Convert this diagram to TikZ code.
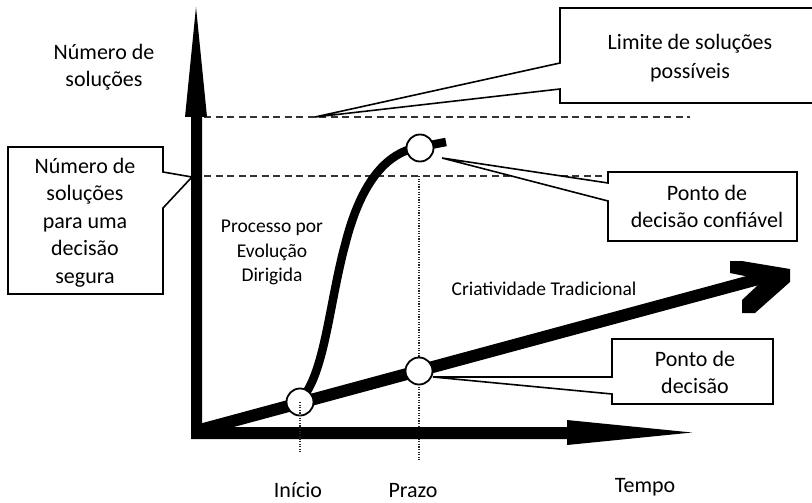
\documentclass[tikz,border=0pt]{standalone}
\usepackage{fontspec}
\setmainfont{Carlito}
\begin{document}
\begin{tikzpicture}[x=1pt,y=-1pt,
  callout/.style={draw=black,line width=1.6pt,fill=white,line join=miter},
  guide/.style={draw=black!80,line width=1.8pt,dash pattern=on 7pt off 4.5pt},
  tickline/.style={draw=black!85,line width=1.3pt,dash pattern=on 1.2pt off 1.4pt},
  lbl/.style={font=\fontsize{22}{26}\selectfont,inner sep=0pt,anchor=base},
  smalllbl/.style={font=\fontsize{19.5}{24}\selectfont,inner sep=0pt,anchor=base},
  marker/.style={circle,draw=black,line width=1.8pt,fill=white,minimum size=27pt,inner sep=0pt},
  solid black/.style={fill=black,draw=none}]
\useasboundingbox (0,0) rectangle (812,503);
\clip (0,0) rectangle (812,503);

% key points
\coordinate (origin) at (196,431);
\coordinate (tradend) at (762,278);
\coordinate (limL) at (204,117);
\coordinate (limR) at (690,117);
\coordinate (safeL) at (204,176);
\coordinate (safeR) at (607,176);

% horizontal reference levels
\draw[guide] (limL) -- (limR);
\draw[guide] (safeL) -- (safeR);

% deadline marker line
\coordinate (prazoTop) at (419,176);
\coordinate (prazoBot) at (419,460);
\draw[tickline] (prazoTop) -- (prazoBot);

% callouts
\draw[callout] (560,63) -- (560,8) -- (818,8) -- (818,103) -- (560,103) -- (560,89) -- (315,117) -- cycle;
\draw[callout] (163,172) -- (163,147) -- (8,147) -- (8,294) -- (163,294) -- (163,208) -- (192,177) -- cycle;
\draw[callout] (608,183) -- (608,172) -- (797,172) -- (797,241) -- (608,241) -- (608,201) -- (442,158) -- cycle;
\draw[callout] (612,377) -- (612,339) -- (773,339) -- (773,404) -- (612,404) -- (612,394) -- (433,377) -- cycle;

% axes
\fill[solid black] (191,439) -- (191,117) -- (185,117) -- (196,7) -- (207,117) -- (202,117)
  -- (202,427) -- (567,427) -- (567,420) -- (692,432.5) -- (567,445) -- (567,439) -- cycle;

% traditional creativity arrow
\draw[line width=12pt,line cap=butt] (origin) -- (tradend);
\fill[solid black] (730,261) -- (742,261) -- (790,269) -- (790,282) -- (755,313) -- (742,313)
  -- (742,300) -- (758,285) -- (750,277) -- (730,273) -- cycle;

% directed evolution curve
\coordinate (evoStart) at (303,397);
\coordinate (evoMid) at (345,245);
\coordinate (evoTop) at (420,147);
\coordinate (evoEnd) at (446,142);
\draw[line width=8.5pt,line cap=butt] (evoStart) .. controls (325,370) and (330,300) .. (evoMid)
  .. controls (360,185) and (385,152) .. (evoTop) -- (evoEnd);

% decision markers
\node[marker] (inicio) at (300,402) {};
\node[marker] (prazo) at (419,371) {};
\node[marker] (confiavel) at (420,148) {};
\coordinate (inicioBot) at (300,452);
\draw[tickline] (inicio.center) -- (inicioBot);

% labels
\node[lbl] (yl1) at (104,60) {Número de};
\node[lbl] (yl2) at (104,87) {soluções};

\node[lbl] (lim1) at (690,50) {Limite de soluções};
\node[lbl] (lim2) at (690,78) {possíveis};

\node[lbl] (seg1) at (85,173) {Número de};
\node[lbl] (seg2) at (85,200.5) {soluções};
\node[lbl] (seg3) at (85,228) {para uma};
\node[lbl] (seg4) at (85,255.5) {decisão};
\node[lbl] (seg5) at (85,283) {segura};

\node[lbl] (conf1) at (707,200) {Ponto de};
\node[lbl] (conf2) at (707,227) {decisão confiável};

\node[lbl] (dec1) at (695,366) {Ponto de};
\node[lbl] (dec2) at (695,393) {decisão};

\node[smalllbl] (evo1) at (272,232) {Processo por};
\node[smalllbl] (evo2) at (272,257) {Evolução};
\node[smalllbl] (evo3) at (272,281) {Dirigida};

\node[smalllbl] (trad) at (544,295) {Criatividade Tradicional};

\node[lbl] (tinicio) at (298,497) {Início};
\node[lbl] (tprazo) at (413,497) {Prazo};
\node[lbl] (ttempo) at (645,492) {Tempo};
\end{tikzpicture}
\end{document}
